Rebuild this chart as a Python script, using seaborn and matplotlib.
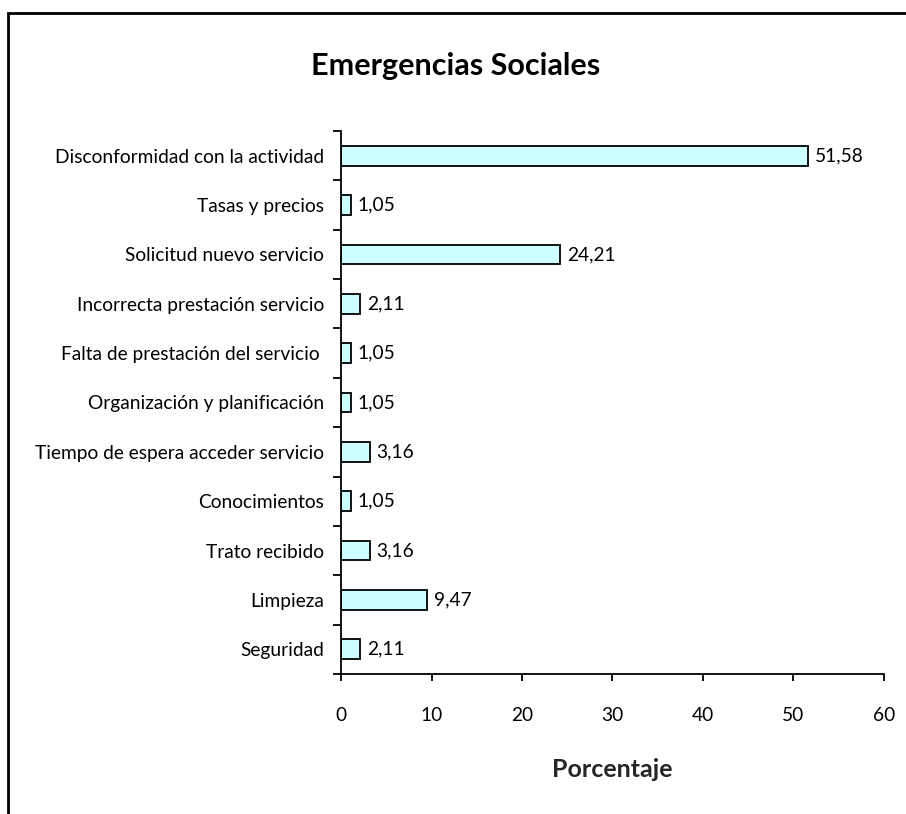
import seaborn as sns
import matplotlib.pyplot as plt
from matplotlib.patches import Rectangle
from matplotlib.ticker import FixedLocator
import pandas as pd

categorias = [
    'Disconformidad con la actividad',
    'Tasas y precios',
    'Solicitud nuevo servicio',
    'Incorrecta prestación servicio',
    'Falta de prestación del servicio ',
    'Organización y planificación',
    'Tiempo de espera acceder servicio',
    'Conocimientos',
    'Trato recibido',
    'Limpieza',
    'Seguridad',
]
porcentajes = [51.58, 1.05, 24.21, 2.11, 1.05, 1.05, 3.16, 1.05, 3.16, 9.47, 2.11]
x_ticks = [0, 10, 20, 30, 40, 50, 60]

sns.set_style('white')
plt.rcParams['font.family'] = ['Lato', 'DejaVu Sans']
plt.rcParams['text.color'] = 'black'
plt.rcParams['xtick.color'] = 'black'
plt.rcParams['ytick.color'] = 'black'

data = pd.DataFrame({'Categoria': categorias, 'Porcentaje': porcentajes})

fig = plt.figure(figsize=(9.06, 8.14), dpi=100)
ax = fig.add_axes([341 / 906, 1 - 674 / 814, 543 / 906, 543 / 814])

sns.barplot(data=data, y='Categoria', x='Porcentaje', orient='h', ax=ax,
            color='#CCFFFF', edgecolor='black', linewidth=1.3, width=0.4,
            saturation=1)

# etiquetas de valor con coma decimal
for i, v in enumerate(porcentajes):
    ax.annotate(f'{v:.2f}'.replace('.', ','), (v, i), xytext=(5, 0),
                textcoords='offset points', va='center', ha='left', fontsize=13.8)

ax.set_xlim(0, 60)
ax.set_ylim(len(categorias) - 0.5, -0.5)
ax.set_xticks(x_ticks)
ax.set_xticklabels([str(t) for t in x_ticks], fontsize=13.8)
ax.tick_params(axis='x', bottom=True, direction='out', length=5, width=1.3, pad=19)
ax.tick_params(axis='y', which='major', left=False, length=0, pad=12, labelsize=13.8)
ax.yaxis.set_minor_locator(FixedLocator([i - 0.5 for i in range(len(categorias) + 1)]))
ax.tick_params(axis='y', which='minor', left=True, direction='out', length=6, width=1.3)

for s in ['top', 'right']:
    ax.spines[s].set_visible(False)
for s in ['left', 'bottom']:
    ax.spines[s].set_color('black')
    ax.spines[s].set_linewidth(1.3)

ax.set_ylabel('')
ax.set_xlabel('Porcentaje', fontsize=18, fontweight='bold', labelpad=24)

fig.text(456 / 906, 1 - 66 / 814, 'Emergencias Sociales',
         ha='center', va='center', fontsize=22, fontweight='bold')

# marco del gráfico
fig.patches.append(Rectangle((8 / 906, -0.05), 1.1, 1 - 13 / 814 + 0.05,
                             transform=fig.transFigure, fill=False,
                             edgecolor='black', linewidth=2))

fig.savefig('out.png', dpi=100)
